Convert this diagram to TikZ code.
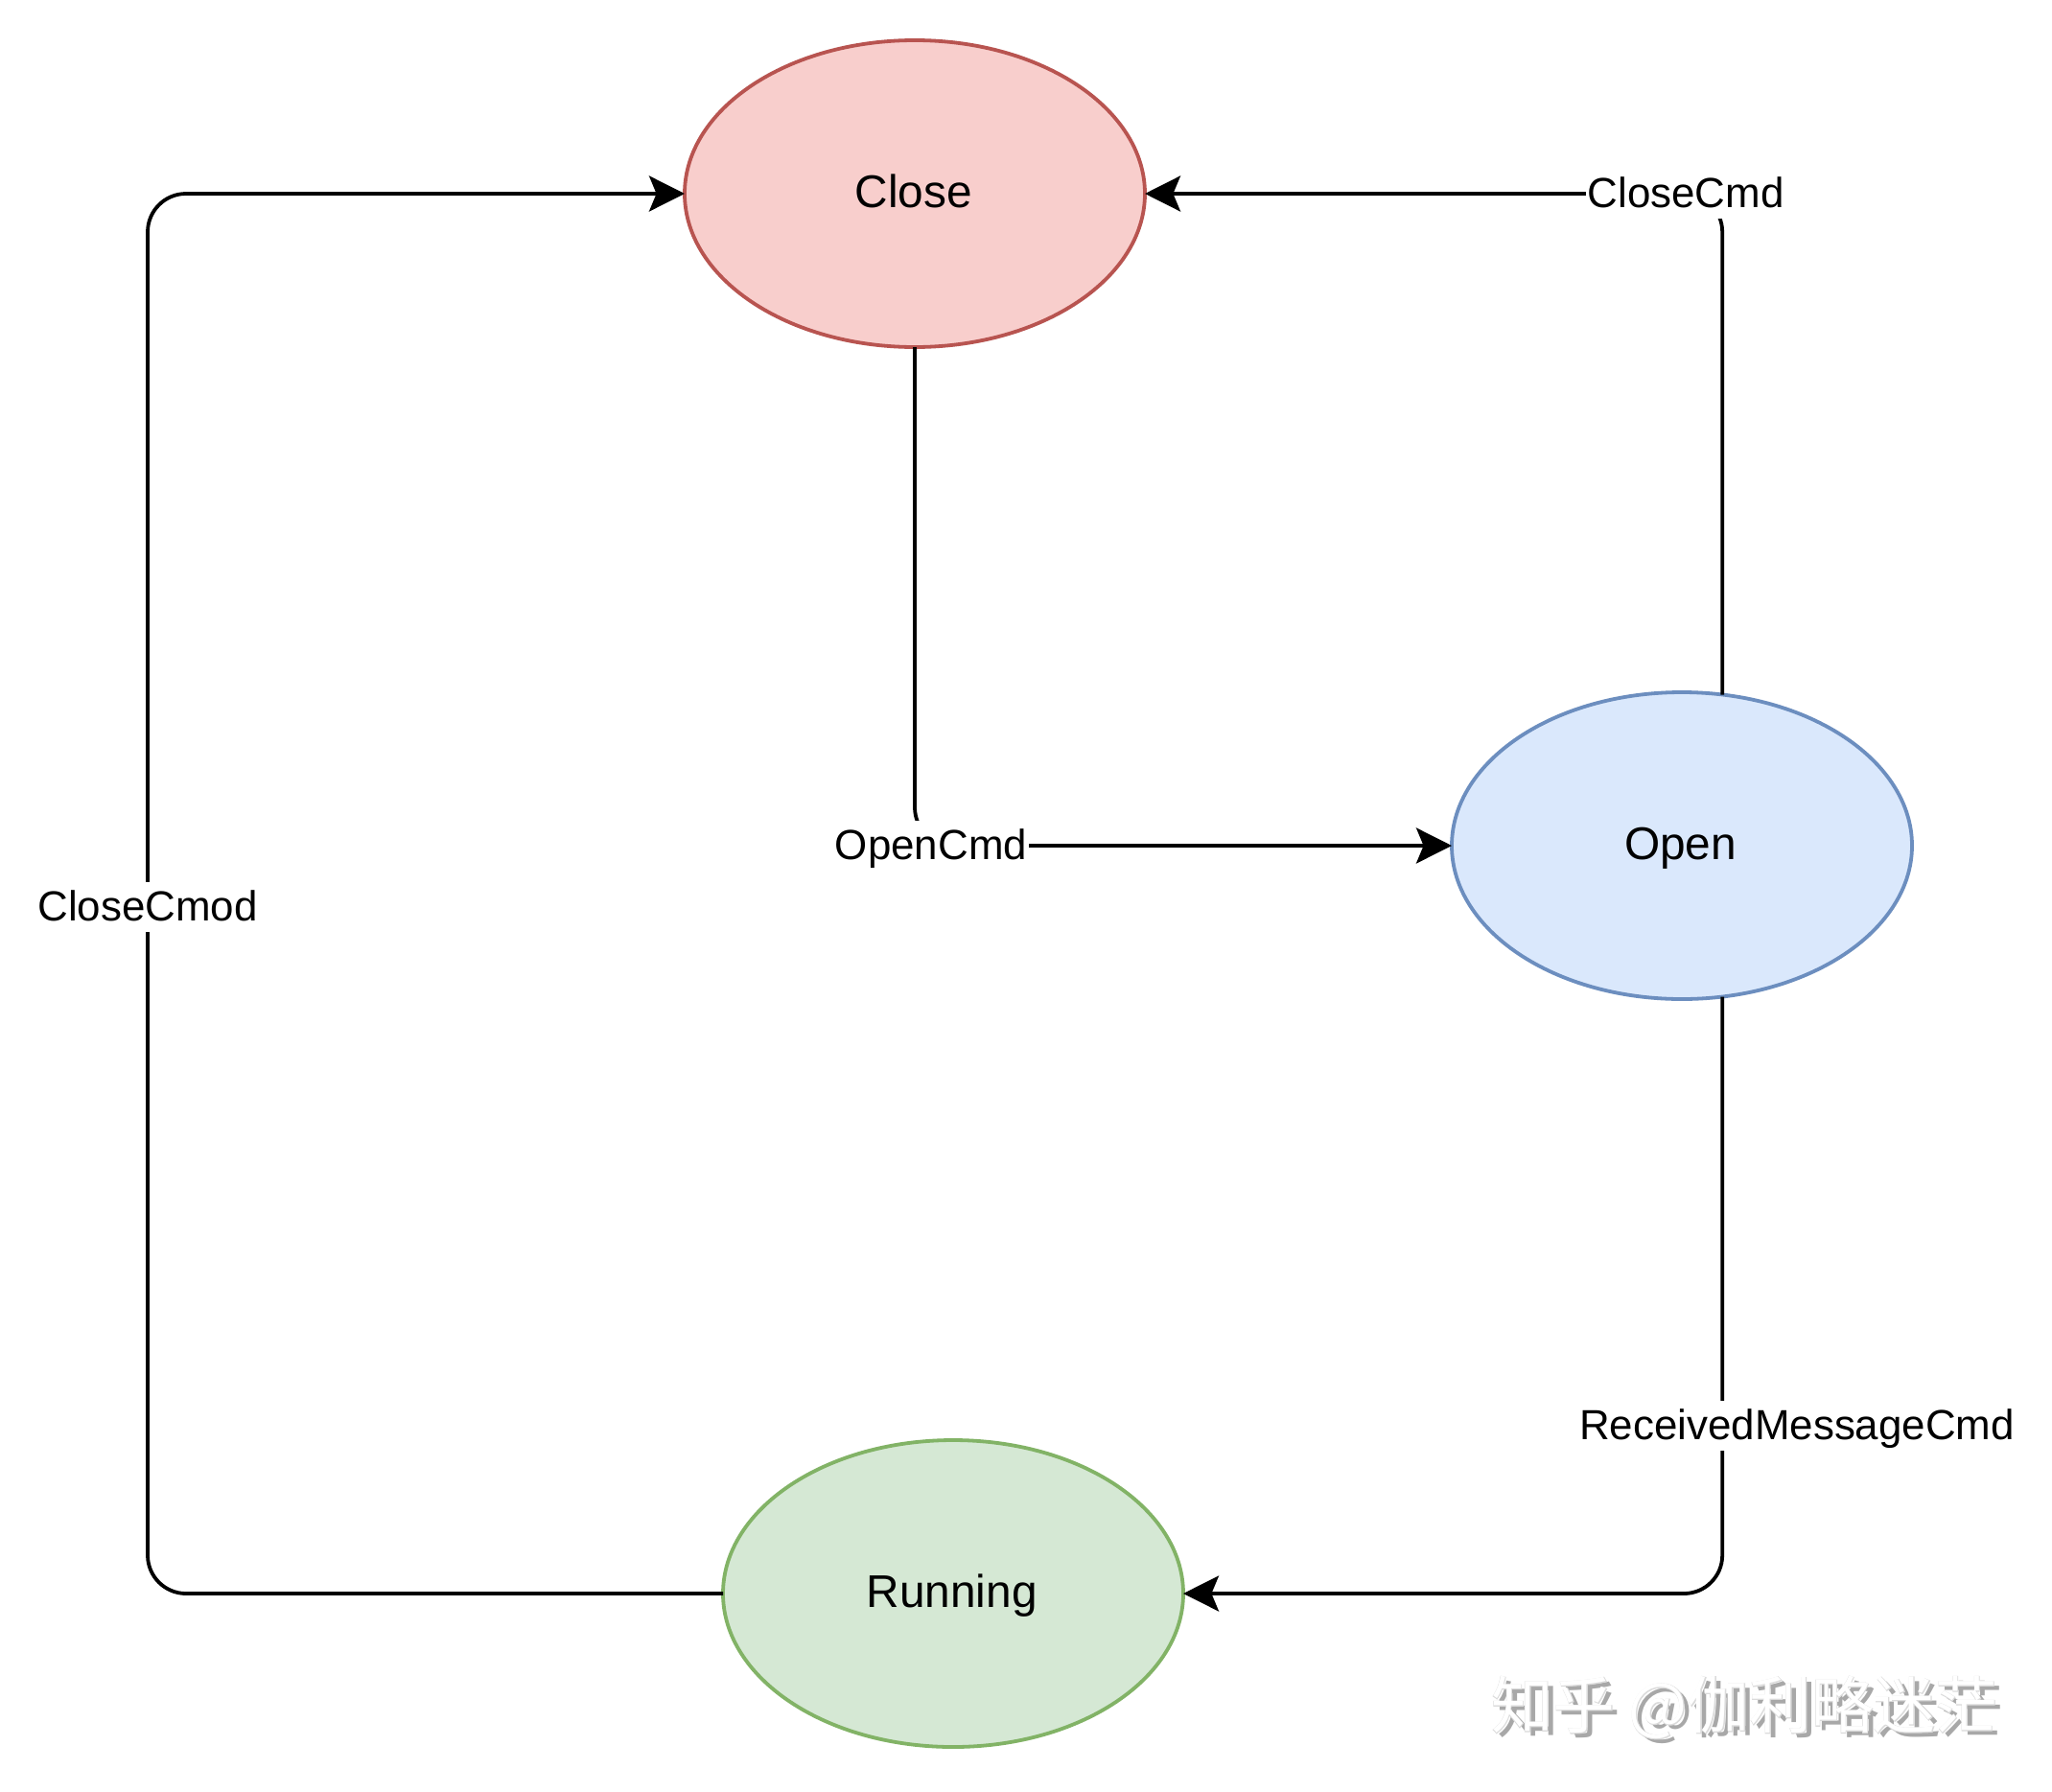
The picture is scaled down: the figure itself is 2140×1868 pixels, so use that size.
\documentclass[tikz,border=0pt]{standalone}
\usepackage{fontspec}
\setmainfont{Liberation Sans}
\newfontfamily\cjkfont{Noto Sans CJK SC}
\newfontfamily\cjkbold[FakeBold=1.8]{Noto Sans CJK SC}
\usetikzlibrary{arrows.meta,shapes.geometric}
\definecolor{redfill}{HTML}{F8CECC}
\definecolor{redline}{HTML}{B85450}
\definecolor{bluefill}{HTML}{DAE8FC}
\definecolor{blueline}{HTML}{6C8EBF}
\definecolor{greenfill}{HTML}{D5E8D4}
\definecolor{greenline}{HTML}{82B366}
\tikzset{
  state/.style={ellipse,draw,line width=1.9pt,minimum width=240pt,minimum height=160pt,inner sep=0pt,outer sep=0pt,text height=18pt,text depth=3.8pt,execute at end node=\hspace{1.4pt},font=\fontsize{23.9}{28}\selectfont},
  link/.style={draw=black,line width=1.9pt,rounded corners=20pt,-{Stealth[length=18.5pt,width=18.5pt,inset=3.8pt]}},
  cmdlabel/.style={fill=white,inner xsep=0.8pt,inner ysep=0pt,text height=20.15pt,text depth=5.85pt,font=\fontsize{21.95}{26}\selectfont},
  mark text/.style={inner sep=0pt,anchor=center,font=\fontsize{32.3}{36}\selectfont}
}
\begin{document}
\begin{tikzpicture}[x=0.5pt,y=-0.5pt]
\useasboundingbox[fill=white] (0,0) rectangle (2140,1868);
\node[state,fill=redfill,draw=redline] (close) at (954,202) {Close};
\node[state,fill=bluefill,draw=blueline] (open) at (1754,882) {Open};
\node[state,fill=greenfill,draw=greenline] (running) at (994,1662) {Running};
\coordinate (leftbend) at (154,946);
\draw[link] (close.south) |- (open.west);
\draw[link] (open.75.85) |- (close.east);
\draw[link] (open.-75.85) |- (running.east);
\draw[link] (running.west) -| (leftbend) |- (close.west);
\node[cmdlabel] (l1) at (971,882) {OpenCmd};
\node[cmdlabel] (l2) at (1758,202) {CloseCmd};
\node[cmdlabel] (l3) at (154,946) {CloseCmod};
\node[cmdlabel] (l4) at (1874,1487) {ReceivedMessageCmd};
\node[mark text,text=black!34] (wm1) at (1825,1786) {\cjkfont 知乎 @伽利略迷茫};
\node[mark text,text=black!14] (wm2) at (1819,1781) {\cjkbold 知乎 @伽利略迷茫};
\node[mark text,text=white] (wm3) at (1819,1781) {\cjkfont 知乎 @伽利略迷茫};
\end{tikzpicture}
\end{document}
